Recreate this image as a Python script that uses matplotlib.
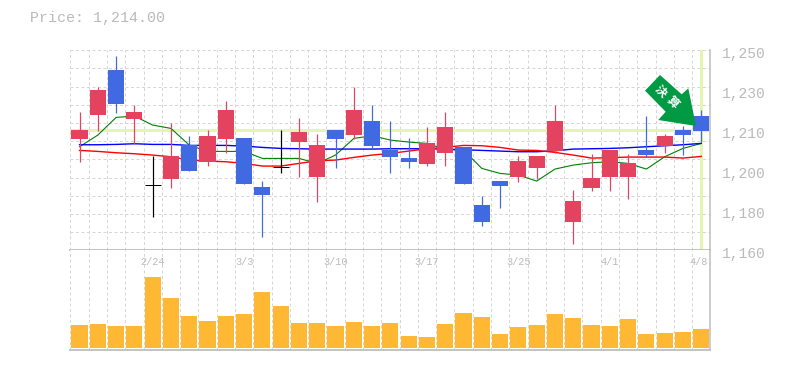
import matplotlib
matplotlib.use("Agg")
import matplotlib.pyplot as plt
from matplotlib.patches import Polygon, Rectangle

# (prices in yen); red candles close above open, blue below, black are flat
opens = [1210.05, 1220.85, 1241.1, 1219.05, 1189.2, 1192.05, 1207.35, 1199.85, 1210.05, 1210.5, 1188.45, 1197.3,
         1208.7, 1192.95, 1214.1, 1211.85, 1218.15, 1205.1, 1201.5, 1198.8, 1203.75, 1206.45, 1180.35, 1191.15,
         1192.95, 1197.0, 1204.65, 1172.7, 1188.0, 1192.95, 1192.95, 1205.1, 1206.9, 1214.1, 1220.4]
closes = [1214.1, 1232.1, 1225.8, 1222.2, 1189.2, 1202.4, 1195.65, 1211.4, 1223.1, 1189.8, 1184.85, 1197.3,
          1213.2, 1207.35, 1210.05, 1223.1, 1206.9, 1201.95, 1199.7, 1208.25, 1215.45, 1189.8, 1172.7, 1188.9,
          1200.15, 1202.4, 1218.15, 1182.15, 1192.5, 1205.1, 1199.25, 1202.85, 1211.4, 1211.85, 1213.65]
highs = [1222.2, 1233.45, 1247.4, 1225.35, 1202.25, 1217.25, 1211.4, 1214.1, 1227.15, 1210.5, 1191.15, 1214.1,
         1219.5, 1212.3, 1214.1, 1233.45, 1225.35, 1218.15, 1210.5, 1215.45, 1222.2, 1206.45, 1184.4, 1191.15,
         1202.4, 1202.4, 1225.35, 1187.1, 1203.3, 1205.1, 1203.3, 1220.4, 1212.3, 1215.9, 1223.1]
lows = [1199.7, 1213.8, 1221.75, 1207.8, 1175.1, 1188.0, 1195.65, 1197.9, 1203.75, 1189.8, 1165.95, 1194.75,
        1192.95, 1181.7, 1197.0, 1210.05, 1205.55, 1194.75, 1197.0, 1197.9, 1197.9, 1189.8, 1170.9, 1179.0,
        1190.7, 1192.05, 1203.75, 1162.8, 1186.65, 1186.65, 1183.05, 1201.95, 1203.75, 1202.85, 1208.7]
ma_green = [1206.6, 1211.85, 1219.8, 1220.4, 1216.35, 1214.85, 1207.35, 1204.5, 1204.5, 1204.5, 1201.35, 1201.35,
            1201.35, 1199.1, 1202.85, 1210.35, 1211.55, 1209.6, 1208.7, 1208.1, 1205.4, 1205.1, 1196.85, 1194.6,
            1193.85, 1191.15, 1196.55, 1198.35, 1199.4, 1199.85, 1199.1, 1196.55, 1202.1, 1205.85, 1208.1]
ma_blue = [1207.5, 1207.5, 1207.65, 1207.95, 1207.65, 1207.65, 1207.2, 1207.2, 1207.2, 1206.9, 1206.3, 1205.85,
           1205.7, 1205.55, 1205.55, 1205.55, 1205.55, 1205.7, 1205.7, 1205.7, 1205.55, 1205.25, 1204.95, 1204.65,
           1204.35, 1204.35, 1204.8, 1205.55, 1205.7, 1205.85, 1206.15, 1206.6, 1207.05, 1207.5, 1208.1]
ma_red = [1204.95, 1204.5, 1203.9, 1203.45, 1202.85, 1202.1, 1200.6, 1200.15, 1199.85, 1199.1, 1197.9, 1197.9,
          1199.1, 1200.3, 1200.6, 1201.8, 1202.85, 1203.6, 1204.65, 1205.7, 1206.3, 1207.2, 1207.05, 1206.3,
          1205.1, 1204.95, 1204.05, 1202.85, 1201.5, 1201.65, 1201.95, 1201.95, 1201.95, 1201.5, 1202.25]
volumes = [69, 72, 66, 66, 213, 150, 96, 81, 96, 102, 168, 126, 75, 75, 66, 78, 66, 75,
           36, 33, 72, 105, 93, 42, 63, 69, 102, 90, 69, 66, 87, 42, 45, 48, 57]
date_positions = [4, 9, 14, 19, 24, 29, 34]
date_labels = ["2/24", "3/3", "3/10", "3/17", "3/25", "4/1", "4/8"]
price_ticks = [1160, 1178, 1196, 1214, 1232, 1250]
price_labels = ["1,160", "1,180", "1,200", "1,210", "1,230", "1,250"]
last_price = 1214.0
title = "Price: 1,214.00"
badge = "決算"

RED, BLUE, BLACK = "#E3435F", "#4169E1", "#000000"
GRID, AXIS, TEXT = "#D6D6D6", "#BEBEBE", "#BABABA"
W, H = 785, 370
MONO = "Liberation Mono"
PX = 0.72  # one pixel in points

fig = plt.figure(figsize=(W / 100, H / 100), dpi=100, facecolor="white")
def box(l, t, r, b):
    return [l / W, 1 - b / H, (r - l) / W, (b - t) / H]

ax = fig.add_axes(box(70.4, 50.3, 710.4, 250.3))
vx = fig.add_axes(box(70.4, 250.3, 710.4, 350.3))
n = len(opens)
for a in (ax, vx):
    a.set_xlim(-0.5, n - 0.5)
    a.set_xticks([i - 0.5 for i in range(n + 1)])
    a.tick_params(length=0, labelbottom=False, labelleft=False)
    a.grid(True, color=GRID, lw=PX, ls=(0, (3, 2.5)))
    a.set_axisbelow(True)
    for s in a.spines.values():
        s.set_visible(False)
    a.spines["right"].set_visible(True)
    a.spines["right"].set_color(AXIS)
    a.spines["right"].set_linewidth(1.1)
    a.spines["bottom"].set_visible(True)
    a.spines["bottom"].set_color(AXIS)
    a.spines["bottom"].set_linewidth(1.3)

ax.set_ylim(1160, 1250)
ax.set_yticks([1160 + k * 90 / 11 for k in range(12)])
vx.set_ylim(-6, 294)
vx.set_yticks([])

ax.axhline(last_price, color="#E6F5AD", lw=2.2, zorder=1.5)
ax.axvline(n - 1, ymin=0.005, ymax=0.995, color="#E6F5AD", lw=2.2, zorder=1.5)

xs = list(range(n))
ax.plot(xs, ma_green, color="#008000", lw=0.8, zorder=2)
ax.plot(xs, ma_blue, color="#0000FF", lw=1.0, zorder=2.1)
ax.plot(xs, ma_red, color="#FF0000", lw=1.0, zorder=2.2)

for x, o, c, h, l in zip(xs, opens, closes, highs, lows):
    col = BLACK if o == c else (RED if c > o else BLUE)
    ax.plot([x, x], [l, h], color=col, lw=PX * 1.2, zorder=3, solid_capstyle="butt")
    if o == c:
        ax.plot([x - 0.44, x + 0.44], [o, o], color=col, lw=PX, zorder=3, solid_capstyle="butt")
    else:
        ax.add_patch(Rectangle((x - 0.44, min(o, c)), 0.88, abs(c - o), fc=col, ec="none", zorder=3))

vx.bar(xs, volumes, width=0.88, color="#FFB833", zorder=3)

# Earnings arrow, placed in figure fractions
def fp(px, py):
    return (px / W, 1 - py / H)
arrow = [(696, 126), (688.3, 88.3), (681.7, 94.3), (660, 75), (645, 90.7), (665.7, 111.7), (658.3, 120)]
fig.add_artist(Polygon([fp(*p) for p in arrow], closed=True, transform=fig.transFigure,
                       fc="#009944", ec="none", zorder=10))
for ch, p in zip(badge, [(660.7, 91.7), (671.7, 103.3)]):
    fig.text(*fp(*p), ch, color="white", fontsize=8.5, rotation=-45, ha="center", va="center",
             family=["Noto Sans CJK JP"], weight="bold", zorder=11)

fig.text(*fp(29.5, 18), title, family=MONO, fontsize=10.8, color=TEXT, ha="left", va="center")
for v, lab in zip(price_ticks, price_labels):
    ax.annotate(lab, (1, v), xycoords=ax.get_yaxis_transform(), xytext=(8.5, -2.6), textcoords="offset points",
                family=MONO, fontsize=10.5, color=TEXT, ha="left", va="center", annotation_clip=False)
for pos, lab in zip(date_positions, date_labels):
    ha = "right" if pos == n - 1 else "center"
    off = 4.5 if pos == n - 1 else 0
    vx.annotate(lab, (pos, 1), xycoords=vx.get_xaxis_transform(), xytext=(off, -8.5), textcoords="offset points",
                family=MONO, fontsize=7.4, color=TEXT, ha=ha, va="center", annotation_clip=False)

fig.savefig("out.png", dpi=100, facecolor="white")
